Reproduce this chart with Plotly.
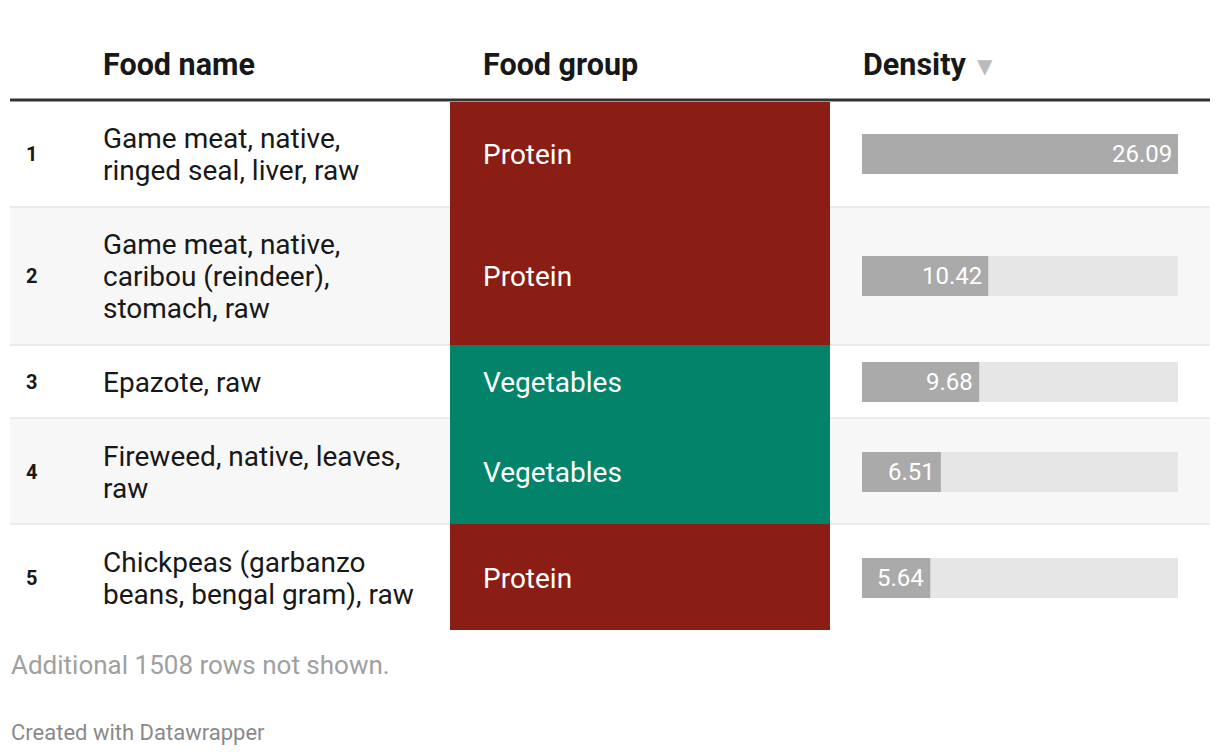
import plotly.graph_objects as go

ranks = ["1", "2", "3", "4", "5"]
food_names = [
    "Game meat, native,<br>ringed seal, liver, raw",
    "Game meat, native,<br>caribou (reindeer),<br>stomach, raw",
    "Epazote, raw",
    "Fireweed, native, leaves,<br>raw",
    "Chickpeas (garbanzo<br>beans, bengal gram), raw",
]
food_groups = ["Protein", "Protein", "Vegetables", "Vegetables", "Protein"]
density = [26.09, 10.42, 9.68, 6.51, 5.64]
headers = ["Food name", "Food group", "Density"]
footnote = "Additional 1508 rows not shown."
credit = "Created with Datawrapper"

group_colors = {"Protein": "#8b1e14", "Vegetables": "#02836a"}

# layout geometry (page pixels; the page body adds an 8px offset)
W, H = 1220, 756
OFF = 8
row_edges = [102, 207, 345, 418, 524, 630]
row_centers = [154, 276, 382, 472, 578]
LINE = 32
FONT = "Roboto"

fig = go.Figure()

shapes = []
for i in range(5):
    if i % 2 == 1:
        shapes.append(dict(type="rect", xref="x", yref="y", x0=10, x1=1210,
                           y0=row_edges[i], y1=row_edges[i + 1],
                           fillcolor="#f7f7f7", line_width=0, layer="below"))
for e in row_edges[1:-1]:
    shapes.append(dict(type="line", xref="x", yref="y", x0=10, x1=1210, y0=e, y1=e,
                       line=dict(color="#e6e6e6", width=1.5), layer="below"))
for i, g in enumerate(food_groups):
    shapes.append(dict(type="rect", xref="x", yref="y", x0=450, x1=830,
                       y0=row_edges[i], y1=row_edges[i + 1],
                       fillcolor=group_colors[g], line_width=0, layer="below"))
shapes.append(dict(type="line", xref="x", yref="y", x0=10, x1=1210, y0=100, y1=100,
                   line=dict(color="#333333", width=3)))

annotations = []
hx = [101, 481, 861]
for h, x in zip(headers, hx):
    annotations.append(dict(x=x, y=64, xref="x", yref="y", text="<b>" + h + "</b>",
                            showarrow=False, xanchor="left", yanchor="middle",
                            font=dict(family=FONT, size=30.5, color="#181818")))
annotations.append(dict(x=975, y=66, xref="x", yref="y", text="▼", showarrow=False,
                        xanchor="left", yanchor="middle",
                        font=dict(family="DejaVu Sans", size=20, color="#bbbbbb")))
for i in range(5):
    c = row_centers[i]
    annotations.append(dict(x=24, y=c, xref="x", yref="y", text="<b>" + ranks[i] + "</b>",
                            showarrow=False, xanchor="left", yanchor="middle",
                            font=dict(family=FONT, size=20, color="#181818")))
    lines = food_names[i].split("<br>")
    n = len(lines)
    for j, ln in enumerate(lines):
        yy = c + (j - (n - 1) / 2) * LINE
        annotations.append(dict(x=101, y=yy, xref="x", yref="y", text=ln,
                                showarrow=False, xanchor="left", yanchor="middle",
                                font=dict(family=FONT, size=28, color="#181818")))
    annotations.append(dict(x=481, y=c, xref="x", yref="y", text=food_groups[i],
                            showarrow=False, xanchor="left", yanchor="middle",
                            font=dict(family=FONT, size=28, color="#ffffff")))
    annotations.append(dict(x=density[i], y=c, xref="x2", yref="y", text=f"{density[i]:.2f}",
                            showarrow=False, xanchor="right", yanchor="middle", xshift=-4,
                            font=dict(family=FONT, size=24, color="#ffffff")))
annotations.append(dict(x=9, y=665, xref="x", yref="y", text=footnote, showarrow=False,
                        xanchor="left", yanchor="middle",
                        font=dict(family=FONT, size=26, color="#a0a0a0")))
annotations.append(dict(x=9, y=732, xref="x", yref="y", text=credit, showarrow=False,
                        xanchor="left", yanchor="middle",
                        font=dict(family=FONT, size=22, color="#8a8a8a")))

max_d = max(density)
fig.add_trace(go.Bar(x=[max_d] * 5, y=row_centers, orientation="h", width=40,
                     marker=dict(color="#e6e6e6", line_width=0), xaxis="x2", yaxis="y",
                     hoverinfo="skip", showlegend=False))
fig.add_trace(go.Bar(x=density, y=row_centers, orientation="h", width=40,
                     marker=dict(color="#aaaaaa", line_width=0), xaxis="x2", yaxis="y",
                     showlegend=False))

fig.update_layout(
    width=W, height=H,
    margin=dict(l=0, r=0, t=0, b=0),
    paper_bgcolor="white", plot_bgcolor="rgba(0,0,0,0)",
    barmode="overlay",
    xaxis=dict(range=[OFF, W + OFF], visible=False, domain=[0, 1], fixedrange=True),
    xaxis2=dict(range=[0, max_d], domain=[(862 - OFF) / W, (1178 - OFF) / W], anchor="y",
                visible=False, fixedrange=True),
    yaxis=dict(range=[H + OFF, OFF], visible=False, domain=[0, 1], fixedrange=True),
    shapes=shapes, annotations=annotations,
)
fig.write_html("out.html", config={"displayModeBar": False})
